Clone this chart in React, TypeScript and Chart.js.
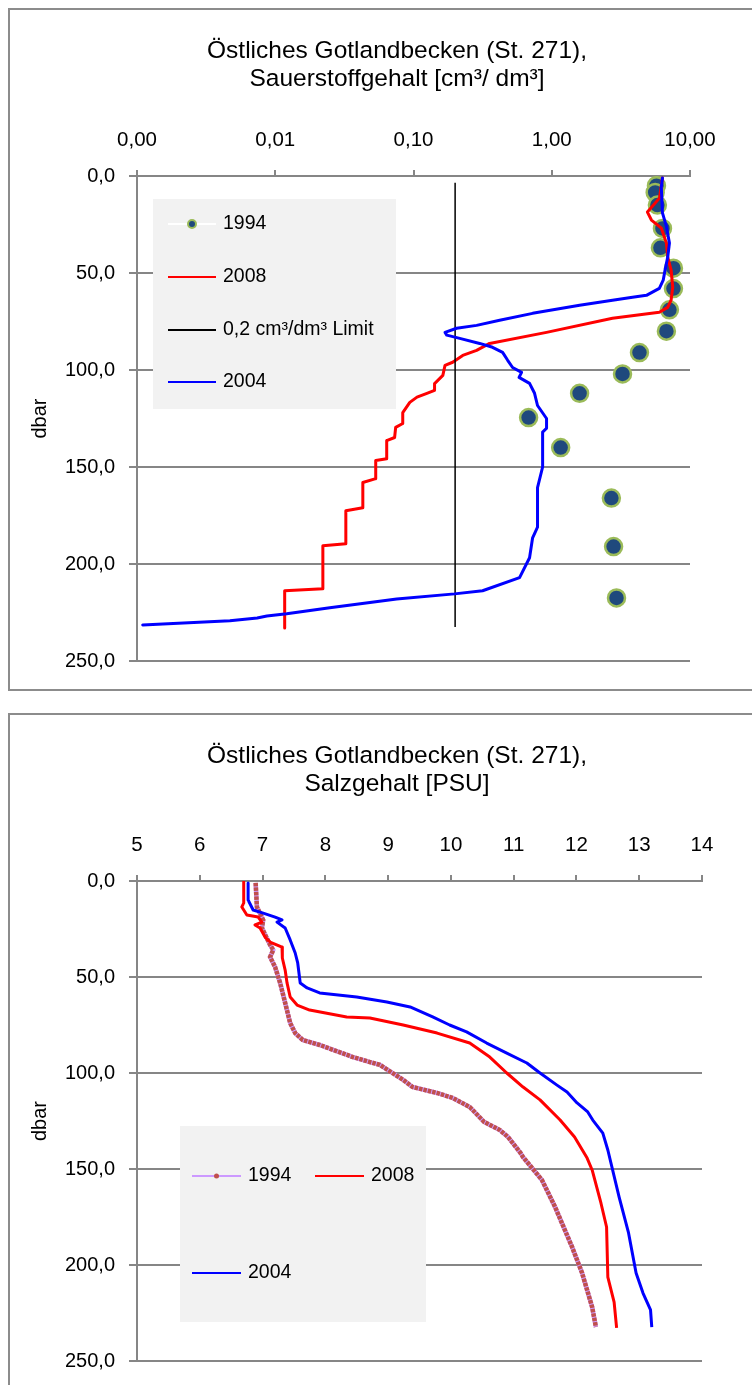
import React, { useEffect, useRef } from "react";
import { Chart, registerables } from "chart.js";

Chart.register(...registerables);

const FONT = "'Liberation Sans', Arial, sans-serif";
Chart.defaults.font.family = FONT;
Chart.defaults.color = "#000";

// ---------------- Oxygen chart (top) ----------------
const oxTitle = ["Östliches Gotlandbecken (St. 271),", "Sauerstoffgehalt [cm³/ dm³]"];
const oxTickValues = [0.001, 0.01, 0.1, 1, 10];
const depthTickValues = [0, 50, 100, 150, 200, 250];
const depthLabel = "dbar";

const oxLabels = ["1994", "2008", "0,2 cm³/dm³ Limit", "2004"];

const ox1994 = [5.72, 5.6, 5.81, 6.32, 6.11, 7.59, 7.59, 7.1, 6.75, 4.31, 3.25, 1.59, 0.68, 1.16, 2.7, 2.8, 2.94];
const ox1994Depth = [5, 8.5, 15, 27, 37, 47.5, 58, 69, 80, 91, 102, 112, 124.5, 140, 166, 191, 217.5];

const ox2008 = [6.32, 6.01, 4.92, 5.26, 6.21, 6.75, 6.9, 7.3, 7.5, 7.3, 6.9, 6.0, 2.75, 0.917, 0.355, 0.286, 0.227, 0.192, 0.169, 0.163, 0.142, 0.142, 0.125, 0.106, 0.094, 0.0836, 0.0836, 0.0743, 0.073, 0.064, 0.064, 0.0533, 0.0533, 0.043, 0.043, 0.0324, 0.0324, 0.0221, 0.0221, 0.0117, 0.0117];
const ox2008Depth = [1, 11.4, 18.6, 22.7, 26.9, 34.6, 41.8, 48.5, 57.3, 64, 67.7, 70.2, 73.3, 80.6, 86.3, 89.9, 92.5, 96, 97.6, 102.8, 107, 110.5, 112, 114, 116.7, 122, 127.6, 129.6, 134.8, 136.4, 145.7, 146.7, 156, 158, 171, 172.5, 189.6, 190.6, 212.8, 213.8, 233];

const ox2004 = [6.32, 6.2, 6.32, 6.75, 7.1, 6.9, 6.6, 6.4, 6.0, 4.84, 3.84, 2.75, 1.59, 0.727, 0.42, 0.286, 0.205, 0.169, 0.174, 0.216, 0.301, 0.373, 0.441, 0.48, 0.521, 0.605, 0.58, 0.691, 0.751, 0.789, 0.917, 0.917, 0.859, 0.859, 0.789, 0.789, 0.727, 0.691, 0.585, 0.316, 0.198, 0.0756, 0.0248, 0.0121, 0.0087, 0.0074, 0.0047, 0.00154, 0.0011];
const ox2004Depth = [1, 5.7, 19, 26, 34.6, 41.8, 48.5, 53.7, 57.9, 61.5, 62.5, 64, 66.6, 70.8, 74.4, 77, 78.5, 80.6, 82, 83.7, 86.3, 88.3, 90.9, 95, 98.7, 101.2, 103.8, 106.9, 112, 118.3, 125, 130, 132, 150, 160.6, 181, 186.5, 196.8, 207, 213.8, 215.4, 218, 222.6, 225.7, 226.8, 227.8, 229.3, 230.9, 231.4];

const limitValue = 0.2;
const limitDepth = [3.5, 232.5];

// ---------------- Salinity chart (bottom) ----------------
const salTitle = ["Östliches Gotlandbecken (St. 271),", "Salzgehalt [PSU]"];
const salTickValues = [5, 6, 7, 8, 9, 10, 11, 12, 13, 14];
const salLabels = ["1994", "2008", "2004"];

const sal1994 = [6.89, 6.91, 7.01, 6.99, 7.12, 7.17, 7.12, 7.2, 7.28, 7.36, 7.44, 7.52, 7.64, 7.91, 8.44, 8.71, 8.87, 9.24, 9.39, 9.78, 10.03, 10.3, 10.53, 10.78, 10.91, 11.11, 11.15, 11.45, 11.66, 11.93, 12.09, 12.25, 12.31];
const sal1994Depth = [1, 13.5, 20.3, 24.5, 33.3, 35.9, 39.6, 44.8, 53.1, 63.5, 74, 79.2, 82.8, 85.4, 91.7, 94.3, 95.8, 103.6, 107.3, 110.4, 113, 117.7, 125.5, 129.7, 133.3, 141.7, 143.8, 155.7, 169.8, 190.6, 204.2, 221.9, 232.3];

const sal2008 = [6.7, 6.7, 6.67, 6.75, 6.93, 6.99, 6.88, 6.96, 7.04, 7.12, 7.31, 7.32, 7.31, 7.36, 7.39, 7.44, 7.55, 7.75, 8.34, 8.71, 9.24, 9.78, 10.3, 10.62, 10.89, 11.15, 11.42, 11.74, 11.97, 12.17, 12.25, 12.39, 12.48, 12.5, 12.6, 12.64];
const sal2008Depth = [0.5, 11.5, 13.5, 17.7, 18.8, 21.4, 22.9, 24.5, 29.2, 31.8, 34.4, 37, 40.1, 46.4, 53.1, 60.4, 64.6, 67.2, 70.8, 71.4, 75, 79.2, 84.4, 91.7, 100, 107.3, 114, 124.5, 133.3, 144.3, 150.5, 167.7, 180.2, 206.3, 219.3, 232.8];

const sal2004 = [6.77, 6.77, 6.85, 7.01, 7.2, 7.31, 7.23, 7.36, 7.44, 7.52, 7.56, 7.6, 7.71, 7.91, 8.5, 8.98, 9.35, 9.71, 9.98, 10.25, 10.57, 10.89, 11.21, 11.42, 11.69, 11.85, 12.01, 12.18, 12.26, 12.42, 12.5, 12.68, 12.83, 12.95, 13.06, 13.18, 13.2];
const sal2004Depth = [1, 9.9, 15.1, 16.7, 18.8, 20.3, 21.4, 24.5, 30.7, 37.5, 42.7, 53.1, 55.7, 58.3, 60.4, 63, 65.6, 70.8, 75, 78.6, 84.4, 89.6, 94.8, 100, 106.3, 109.9, 115.6, 120.3, 124.5, 131.3, 140.1, 164.6, 183.3, 204.2, 214.6, 223.4, 232.3];

// ---------------- helpers ----------------
const GRID = "#868686";
const pts = (xs: number[], ys: number[]) => xs.map((x, i) => ({ x, y: ys[i] }));
const comma = (v: number, d: number) => v.toFixed(d).replace(".", ",");

const titlePlugin = (lines: string[], cx: number) => ({
  id: "twoLineTitle",
  afterDraw(chart: any) {
    const { ctx, chartArea } = chart;
    ctx.save();
    ctx.font = `24.5px ${FONT}`;
    ctx.fillStyle = "#000";
    ctx.textAlign = "center";
    ctx.textBaseline = "middle";
    ctx.fillText(lines[0], cx, chartArea.top - 125);
    ctx.fillText(lines[1], cx, chartArea.top - 97);
    ctx.restore();
  },
});

type Entry = {
  ds: number;
  x: number;
  y: number;
  line: string;
  lw: number;
  marker?: { r: number; fill: string; stroke?: string; sw?: number };
};

const legendPlugin = (box: { x: number; y: number; w: number; h: number }, entries: Entry[], len: number) => ({
  id: "boxLegend",
  afterDraw(chart: any) {
    const ctx = chart.ctx;
    ctx.save();
    ctx.fillStyle = "#F2F2F2";
    ctx.fillRect(box.x, box.y, box.w, box.h);
    ctx.font = `19.5px ${FONT}`;
    ctx.textAlign = "left";
    ctx.textBaseline = "middle";
    for (const e of entries) {
      ctx.strokeStyle = e.line;
      ctx.lineWidth = e.lw;
      ctx.beginPath();
      ctx.moveTo(e.x, e.y);
      ctx.lineTo(e.x + len, e.y);
      ctx.stroke();
      if (e.marker) {
        ctx.beginPath();
        ctx.arc(e.x + len / 2, e.y, e.marker.r, 0, Math.PI * 2);
        ctx.fillStyle = e.marker.fill;
        ctx.fill();
        if (e.marker.stroke) {
          ctx.strokeStyle = e.marker.stroke;
          ctx.lineWidth = e.marker.sw || 1;
          ctx.stroke();
        }
      }
      ctx.fillStyle = "#000";
      ctx.fillText(chart.data.datasets[e.ds].label, e.x + len + 7, e.y);
    }
    ctx.restore();
  },
});

const depthAxis = {
  type: "linear",
  reverse: true,
  min: 0,
  max: 250,
  afterBuildTicks: (s: any) => {
    s.ticks = depthTickValues.map((v) => ({ value: v }));
  },
  afterFit: (s: any) => {
    s.width = 127;
  },
  ticks: { callback: (v: any) => comma(Number(v), 1), font: { size: 20 }, color: "#000", padding: 14 },
  grid: { color: GRID, lineWidth: 2, tickLength: 8, drawTicks: true, tickColor: GRID },
  border: { display: true, color: GRID, width: 2 },
  title: { display: true, text: depthLabel, font: { size: 20 }, color: "#000", padding: { top: 18, bottom: 0 } },
};

const topAxisCommon = {
  position: "top",
  afterFit: (s: any) => {
    s.height = 60;
  },
  grid: { drawOnChartArea: false, drawTicks: true, tickLength: 6, color: GRID, lineWidth: 2, tickColor: GRID },
  border: { display: true, color: GRID, width: 2 },
};

function oxConfig(): any {
  return {
    type: "scatter",
    data: {
      datasets: [
        {
          label: oxLabels[0],
          data: pts(ox1994, ox1994Depth),
          showLine: false,
          pointRadius: 8.5,
          pointBorderWidth: 2.5,
          pointBackgroundColor: "#1F497D",
          pointBorderColor: "#9BBB59",
          order: 4,
        },
        {
          label: oxLabels[1],
          data: pts(ox2008, ox2008Depth),
          showLine: true,
          borderColor: "#FF0000",
          borderWidth: 3,
          pointRadius: 0,
          borderJoinStyle: "round",
          borderCapStyle: "round",
          order: 3,
        },
        {
          label: oxLabels[2],
          data: limitDepth.map((d) => ({ x: limitValue, y: d })),
          showLine: true,
          borderColor: "#000000",
          borderWidth: 1.5,
          pointRadius: 0,
          order: 2,
        },
        {
          label: oxLabels[3],
          data: pts(ox2004, ox2004Depth),
          showLine: true,
          borderColor: "#0000FF",
          borderWidth: 3,
          pointRadius: 0,
          borderJoinStyle: "round",
          borderCapStyle: "round",
          order: 1,
        },
      ],
    },
    options: {
      responsive: false,
      animation: false,
      events: [],
      layout: { padding: { top: 106, left: 0, right: 96, bottom: 28 } },
      plugins: { legend: { display: false }, tooltip: { enabled: false }, title: { display: false } },
      scales: {
        x: {
          ...topAxisCommon,
          type: "logarithmic",
          min: 0.001,
          max: 10,
          afterBuildTicks: (s: any) => {
            s.ticks = oxTickValues.map((v) => ({ value: v }));
          },
          ticks: {
            callback: (v: any) => comma(Number(v), 2),
            font: { size: 20.5 },
            color: "#000",
            padding: 17,
            maxRotation: 0,
            autoSkip: false,
          },
        },
        y: depthAxis,
      },
    },
    plugins: [
      titlePlugin(oxTitle, 387),
      legendPlugin(
        { x: 143, y: 189, w: 243, h: 210 },
        [
          { ds: 0, x: 158, y: 214, line: "#FFFFFF", lw: 2, marker: { r: 4, fill: "#1F497D", stroke: "#9BBB59", sw: 2 } },
          { ds: 1, x: 158, y: 267, line: "#FF0000", lw: 2 },
          { ds: 2, x: 158, y: 320, line: "#000000", lw: 2 },
          { ds: 3, x: 158, y: 372, line: "#0000FF", lw: 2 },
        ],
        48
      ),
    ],
  };
}

function salConfig(): any {
  return {
    type: "scatter",
    data: {
      datasets: [
        {
          label: salLabels[0],
          data: pts(sal1994, sal1994Depth),
          showLine: true,
          borderColor: "#CC99FF",
          borderWidth: 4.5,
          pointRadius: 0,
          order: 6,
        },
        {
          label: salLabels[0],
          data: pts(sal1994, sal1994Depth),
          showLine: true,
          borderColor: "#C0504D",
          borderWidth: 4.5,
          borderDash: [3.5, 1],
          pointRadius: 0,
          order: 5,
        },
        {
          label: salLabels[1],
          data: pts(sal2008, sal2008Depth),
          showLine: true,
          borderColor: "#FF0000",
          borderWidth: 3,
          pointRadius: 0,
          borderJoinStyle: "round",
          order: 4,
        },
        {
          label: salLabels[2],
          data: pts(sal2004, sal2004Depth),
          showLine: true,
          borderColor: "#0000FF",
          borderWidth: 3,
          pointRadius: 0,
          borderJoinStyle: "round",
          order: 3,
        },
      ],
    },
    options: {
      responsive: false,
      animation: false,
      events: [],
      layout: { padding: { top: 106, left: 0, right: 84, bottom: 34 } },
      plugins: { legend: { display: false }, tooltip: { enabled: false }, title: { display: false } },
      scales: {
        x: {
          ...topAxisCommon,
          type: "linear",
          min: 5,
          max: 14,
          afterBuildTicks: (s: any) => {
            s.ticks = salTickValues.map((v) => ({ value: v }));
          },
          ticks: {
            callback: (v: any) => String(v),
            font: { size: 20.5 },
            color: "#000",
            padding: 17,
            maxRotation: 0,
            autoSkip: false,
          },
        },
        y: depthAxis,
      },
    },
    plugins: [
      titlePlugin(salTitle, 387),
      legendPlugin(
        { x: 170, y: 411, w: 246, h: 196 },
        [
          { ds: 0, x: 182, y: 461, line: "#CC99FF", lw: 2, marker: { r: 2.5, fill: "#C0504D" } },
          { ds: 2, x: 305, y: 461, line: "#FF0000", lw: 2 },
          { ds: 3, x: 182, y: 558, line: "#0000FF", lw: 2 },
        ],
        49
      ),
    ],
  };
}

function ChartCanvas({ config, width, height }: { config: () => any; width: number; height: number }) {
  const ref = useRef<HTMLCanvasElement>(null);
  useEffect(() => {
    const chart = new Chart(ref.current as HTMLCanvasElement, config());
    return () => chart.destroy();
  }, []);
  return <canvas ref={ref} width={width} height={height} style={{ display: "block", width, height }} />;
}

const frameStyle: React.CSSProperties = {
  position: "absolute",
  left: 8,
  width: 782,
  border: "2px solid #8C8C8C",
  background: "#FFFFFF",
};

export default function App() {
  return (
    <div style={{ position: "relative", width: 752, height: 1385, overflow: "hidden", background: "#FFFFFF" }}>
      <style>{`html,body{margin:0;padding:0;overflow:hidden;background:#fff}`}</style>
      <div style={{ ...frameStyle, top: 8, height: 679 }}>
        <ChartCanvas config={oxConfig} width={776} height={679} />
      </div>
      <div style={{ ...frameStyle, top: 713, height: 700 }}>
        <ChartCanvas config={salConfig} width={776} height={680} />
      </div>
    </div>
  );
}
